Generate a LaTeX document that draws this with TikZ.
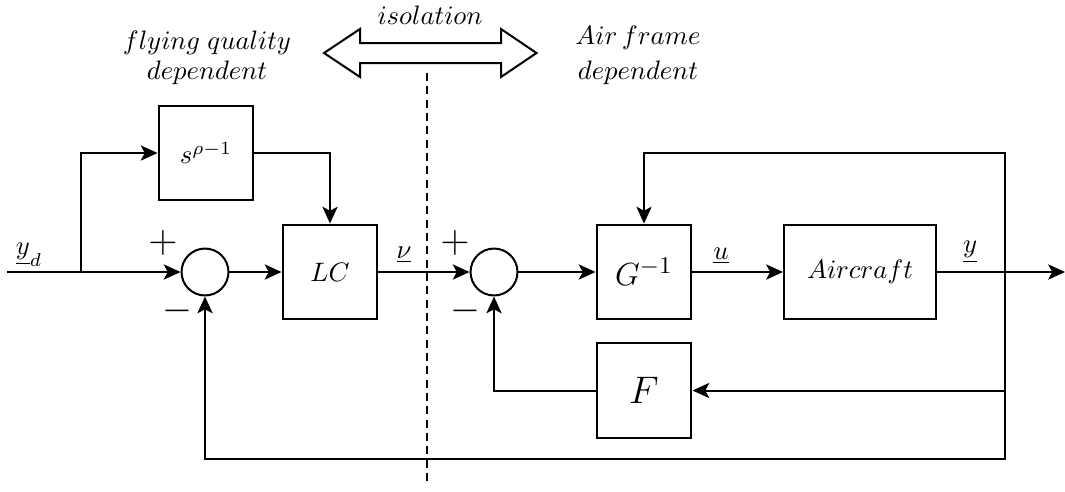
\documentclass[tikz,border=0pt]{standalone}
\usetikzlibrary{arrows.meta}
\begin{document}
\begin{tikzpicture}[x=0.375pt,y=-0.375pt,
  block/.style={draw, line width=0.75pt, minimum width=35.6pt, minimum height=35.6pt, inner sep=0pt},
  sumnode/.style={draw, circle, line width=0.75pt, minimum size=17.6pt, inner sep=0pt},
  conn/.style={line width=0.75pt},
  arr/.style={conn, -{Stealth[length=6.3pt,width=5.7pt,inset=1.5pt]}},
  sig/.style={inner sep=0pt},
  pm/.style={inner sep=0pt, font=\Large},
  note/.style={inner sep=0pt, align=center}]
\useasboundingbox (0,0) rectangle (1065,491);

% blocks
\node[sumnode] (s1) at (205,272) {};
\node[block] (lc) at (330,272) {$LC$};
\node[block] (sp) at (206,153) {$s^{\rho-1}$};
\node[sumnode] (s2) at (494,272) {};
\node[block, font=\fontsize{13}{16}\selectfont] (g) at (644,272) {$G^{-1}$};
\node[block, minimum width=57pt] (ac) at (860,272) {$Aircraft$};
\node[block, font=\fontsize{14.4}{17}\selectfont] (f) at (644,390.5) {$F$};

% coordinates
\coordinate (in) at (7,272);
\coordinate (br) at (81,272);
\coordinate (out) at (1065,272);
\coordinate (tap) at (1005,272);
\coordinate (tt) at (1005,153);
\coordinate (bb) at (1005,459);
\coordinate (dtop) at (427,73);
\coordinate (dbot) at (427,485);

% connectors
\draw[conn] (in) -- (br);
\draw[arr] (br) -- (s1);
\draw[arr] (br) |- (sp);
\draw[arr] (sp.east) -| (lc.north);
\draw[arr] (s1) -- (lc);
\draw[arr] (lc) -- (s2);
\draw[arr] (s2) -- (g);
\draw[arr] (g) -- (ac);
\draw[arr] (ac) -- (out);
\draw[arr] (tap) -- (tt) -| (g.north);
\draw[arr] (tap) |- (f.east);
\draw[arr] (f.west) -| (s2.south);
\draw[arr] (tap) -- (bb) -| (s1.south);

% dashed separator
\draw[line width=0.45pt, dash pattern=on 3pt off 2pt] (dtop) -- (dbot);

% double arrow
\draw[line width=0.75pt, fill=white] (324,53) -- (360,29) -- (360,43) -- (501,43) -- (501,29) -- (536.5,53)
  -- (501,77) -- (501,63) -- (360,63) -- (360,77) -- cycle;

% signs
\node[pm] (p1) at (163,243) {$+$};
\node[pm] (m1) at (177,311) {$-$};
\node[pm] (p2) at (455,243) {$+$};
\node[pm] (m2) at (465,311) {$-$};

% signal labels
\node[sig] (lyd) at (29,255) {$\underline{y}_d$};
\node[sig] (lnu) at (404,255) {$\underline{\nu}$};
\node[sig] (lu) at (721,256) {$\underline{u}$};
\node[sig] (ly) at (970,252) {$\underline{y}$};

% notes
\node[note] (nfq) at (207,57.5) {$flying\;quality$\\[-0.75pt]$dependent$};
\node[note] (naf) at (638,55) {$Air\,frame$\\[1pt]$dependent$};
\node[note] (niso) at (430,15) {$isolation$};
\end{tikzpicture}
\end{document}
